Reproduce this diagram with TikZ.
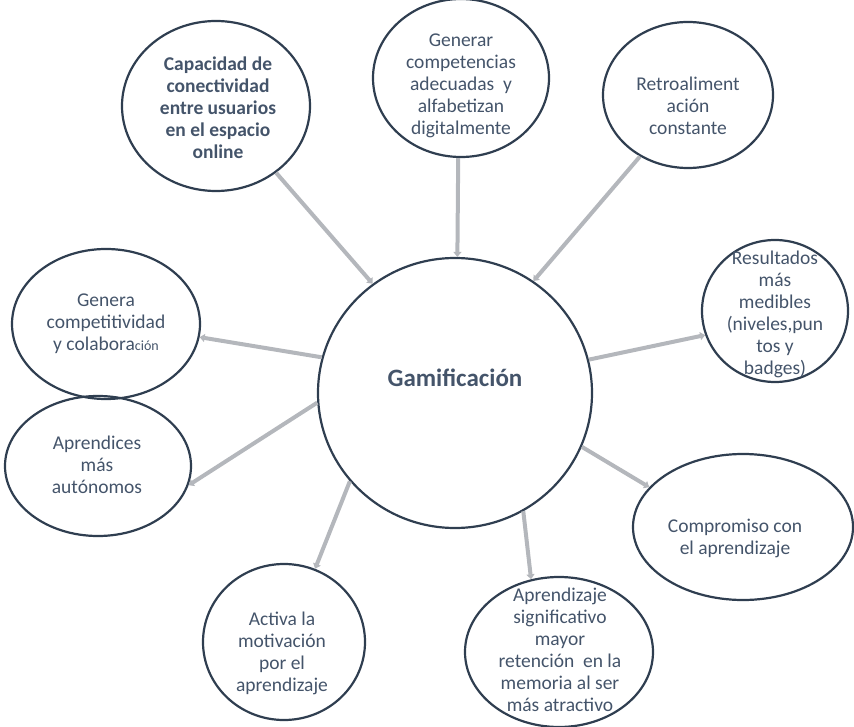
\documentclass[tikz,border=0pt]{standalone}
\usepackage{fontspec}
\setmainfont{Carlito}
\usetikzlibrary{shapes.geometric,arrows.meta}
\definecolor{bord}{RGB}{47,62,80}
\definecolor{txtc}{RGB}{68,84,106}
\definecolor{linec}{RGB}{180,183,188}
\begin{document}
\begin{tikzpicture}[x=1pt,y=-1pt,
  bub/.style={ellipse, draw=bord, line width=2.2pt, inner sep=0pt},
  txt/.style={align=center, text=txtc, font=\fontsize{19.5}{22}\selectfont, inner sep=0pt},
  conn/.style={draw=linec, line width=4pt, -{Triangle[width=8pt,length=5pt]}}]
\useasboundingbox (0,0) rectangle (854,727);

% ellipses
\node[bub, minimum width=274pt, minimum height=270pt] (gam) at (455,393) {};
\node[bub, minimum width=188pt, minimum height=170pt] (cap) at (216,106) {};
\node[bub, minimum width=176pt, minimum height=158pt] (gen) at (461,78) {};
\node[bub, minimum width=170pt, minimum height=146pt] (ret) at (688,95) {};
\node[bub, minimum width=146pt, minimum height=142pt] (res) at (775,311) {};
\node[bub, minimum width=188pt, minimum height=150pt] (gcc) at (106,324) {};
\node[bub, minimum width=186pt, minimum height=140pt] (apa) at (98,466) {};
\node[bub, minimum width=220pt, minimum height=146pt] (com) at (743,527) {};
\node[bub, minimum width=162pt, minimum height=156pt] (act) at (284,642) {};
\node[bub, minimum width=188pt, minimum height=150pt] (sig) at (559,652) {};

% texts
\node[txt, font=\bfseries\fontsize{25}{28}\selectfont] (gamt) at (455,378) {Gamificación};
\node[txt, font=\bfseries\fontsize{19.5}{22}\selectfont] (capt) at (218,108) {Capacidad de\\conectividad\\entre usuarios\\en el espacio\\online};
\node[txt] (gent) at (461,86) {Generar\\competencias\\adecuadas~ y\\alfabetizan\\digitalmente};
\node[txt] (rett) at (688,106) {Retroaliment\\ación\\constante};
\node[txt] (rest) at (775,314) {Resultados\\más\\medibles\\(niveles,pun\\tos y\\badges)};
\node[txt] (gcct) at (106,324) {Genera\\competitividad\\y colabora{\fontsize{14}{22}\selectfont ción}};
\node[txt] (apat) at (97,465) {Aprendices\\más\\autónomos};
\node[txt] (comt) at (735,538) {Compromiso con\\el aprendizaje};
\node[txt] (actt) at (282,653) {Activa la\\motivación\\por el\\aprendizaje};
\node[txt] (sigt) at (560,650) {Aprendizaje\\significativo\\mayor\\retención~ en la\\memoria al ser\\más atractivo};

% connectors
\draw[conn] (cap.-48) -- (gam.127);
\draw[conn] (gen.-92) -- (gam.89);
\draw[conn] (ret.-128) -- (gam.55);
\draw[conn] (gam.14) -- (res.199);
\draw[conn] (gam.-23.5) -- (com.157);
\draw[conn] (gam.-60) -- (sig.111);
\draw[conn] (gam.220) -- (act.67);
\draw[conn] (gam.184) -- (apa.-12.5);
\draw[conn] (gam.165) -- (gcc.-8.5);
\end{tikzpicture}
\end{document}
